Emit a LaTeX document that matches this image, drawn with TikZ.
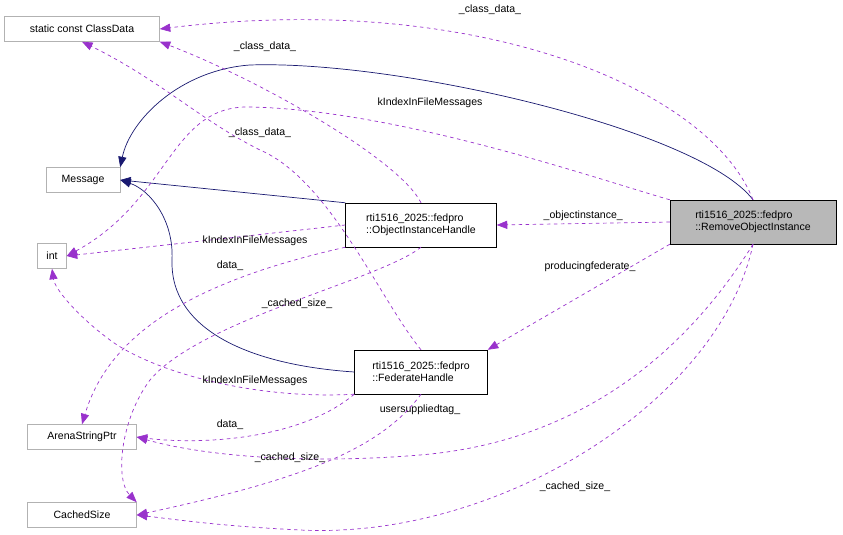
\documentclass[tikz,border=0pt]{standalone}
\usepackage{fontspec}
\setmainfont{Liberation Sans}
\usetikzlibrary{arrows.meta}
\definecolor{edgepurple}{RGB}{153,50,204}
\definecolor{inhnavy}{RGB}{25,25,112}
\tikzset{
  cls/.style={draw=black!30,font=\fontsize{9}{10}\selectfont,minimum height=25*0.03cm,inner xsep=4pt,anchor=center},
  mcls/.style={draw=black,font=\fontsize{9}{10}\selectfont,align=left,minimum height=44*0.03cm,inner xsep=3pt},
  use/.style={draw=edgepurple,dashed,line width=0.6pt,-{Triangle[length=9pt,width=7pt]}},
  inh/.style={draw=inhnavy,line width=0.6pt,-{Triangle[length=9pt,width=7pt]}},
  lbl/.style={font=\fontsize{9}{10}\selectfont}
}
\begin{document}
\begin{tikzpicture}[x=0.03cm,y=-0.03cm]
  \useasboundingbox (0,0) rectangle (843,535);
  % classes
  \node (cd) [cls,minimum width=155*0.03cm] at (82,29) {static const ClassData};
  \node (msg)[cls,minimum width=74*0.03cm] at (83,180) {Message};
  \node (int)[cls,minimum width=29*0.03cm,inner xsep=0pt] at (52,256) {int};
  \node (asp)[cls,minimum width=109*0.03cm] at (82,437) {ArenaStringPtr};
  \node (cs) [cls,minimum width=109*0.03cm] at (82,515) {CachedSize};
  \node (oih)[mcls,minimum width=151*0.03cm] at (421,225) {rti1516\_2025::fedpro\\::ObjectInstanceHandle};
  \node (fh) [mcls,minimum width=133*0.03cm] at (421,372) {rti1516\_2025::fedpro\\::FederateHandle};
  \node (roi)[mcls,fill=black!28,minimum width=166*0.03cm] at (753,222) {rti1516\_2025::fedpro\\::RemoveObjectInstance};

  % inheritance
  \draw[inh] (roi.north) .. controls (700,130) and (400,60) .. (250,65) .. controls (180,70) and (130,120) .. (msg.north east);
  \draw[inh] (oih.north west) -- (msg.east);
  \draw[inh] (fh.west) .. controls (250,365) and (170,330) .. (172,260) .. controls (174,220) and (150,190) .. (msg.east);

  % members
  \draw[use] (roi.north) .. controls (710,90) and (480,-10) .. (cd.east);
  \node[lbl] at (490,10) {\_class\_data\_};
  \draw[use] (oih.north) .. controls (400,160) and (260,80) .. (cd.south east);
  \node[lbl] at (265,47) {\_class\_data\_};
  \draw[use] (fh.north) .. controls (380,300) and (330,180) .. (260,150) .. controls (200,120) and (160,80) .. (cd.south);
  \node[lbl] at (260,133) {\_class\_data\_};

  \draw[use] (roi.north west) .. controls (600,180) and (400,110) .. (250,107) .. controls (170,105) and (170,200) .. (int.east);
  \node[lbl] at (430,103) {kIndexInFileMessages};
  \draw[use] (oih.west) -- (int.east);
  \node[lbl] at (255,241) {kIndexInFileMessages};
  \draw[use] (fh.south west) .. controls (250,400) and (150,370) .. (110,340) .. controls (80,318) and (55,290) .. (int.south);
  \node[lbl] at (255,381) {kIndexInFileMessages};

  \draw[use] (roi.west) -- (oih.east) node[lbl,midway,above=-1pt] {\_objectinstance\_};
  \draw[use] (roi.south west) -- (fh.north east);
  \node[lbl] at (590,267) {producingfederate\_};

  \draw[use] (oih.south west) .. controls (200,280) and (110,330) .. (asp.north);
  \node[lbl] at (230,266) {data\_};
  \draw[use] (fh.south west) .. controls (300,440) and (200,445) .. (asp.east);
  \node[lbl] at (230,425) {data\_};
  \draw[use] (roi.south) .. controls (700,330) and (600,440) .. (420,455) .. controls (300,465) and (200,455) .. (asp.east);
  \node[lbl] at (420,410) {usersuppliedtag\_};

  \draw[use] (oih.south) .. controls (380,280) and (200,320) .. (150,380) .. controls (120,420) and (115,480) .. (cs.north east);
  \node[lbl] at (297,304) {\_cached\_size\_};
  \draw[use] (fh.south) .. controls (380,450) and (300,480) .. (cs.east);
  \node[lbl] at (290,458) {\_cached\_size\_};
  \draw[use] (roi.south) .. controls (720,400) and (500,540) .. (300,530) .. controls (220,526) and (180,520) .. (cs.east);
  \node[lbl] at (575,487) {\_cached\_size\_};
\end{tikzpicture}
\end{document}
